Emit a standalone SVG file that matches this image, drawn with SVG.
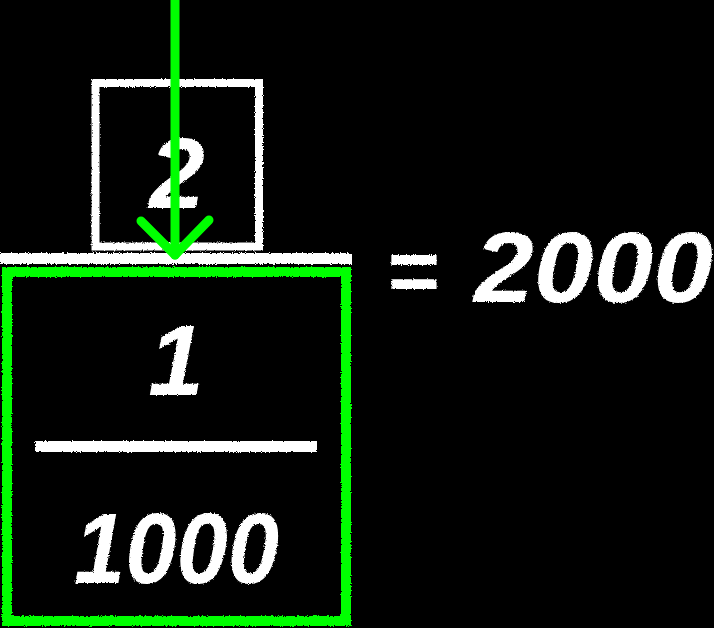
<svg xmlns="http://www.w3.org/2000/svg" width="714" height="628" viewBox="0 0 714 628">
<defs>
<filter id="chalk" x="-5%" y="-5%" width="110%" height="110%">
<feTurbulence type="fractalNoise" baseFrequency="0.9" numOctaves="2" seed="3" result="n"/>
<feDisplacementMap in="SourceGraphic" in2="n" scale="3" xChannelSelector="R" yChannelSelector="G"/>
</filter>
<style>
.w{fill:none;stroke:#ffffff;stroke-width:8}
.g{fill:none;stroke:#00ff00;stroke-width:10}
.t{fill:#ffffff;font-family:"Liberation Sans",Arial,sans-serif;font-weight:bold;font-size:100px;font-style:italic}
.arrow{fill:none;stroke:#00ff00;stroke-width:9;stroke-linecap:round;stroke-linejoin:round}
</style>
</defs>
<rect width="714" height="628" fill="#000000"/>
<g filter="url(#chalk)">
<g id="node-two">
<rect class="w" x="95.5" y="83" width="163.5" height="163.5"/>
<text class="t" x="177" y="208" text-anchor="middle">2</text>
</g>
<g id="node-shelf">
<line class="w" x1="0" y1="258.5" x2="352" y2="258.5" style="stroke-width:11"/>
</g>
<g id="node-fraction">
<rect class="g" x="7" y="272" width="339" height="349"/>
<text class="t" x="176" y="395" text-anchor="middle">1</text>
<line class="w" x1="35" y1="446.5" x2="317" y2="446.5" style="stroke-width:11"/>
<text class="t" x="74" y="583" textLength="205" lengthAdjust="spacingAndGlyphs">1000</text>
</g>
<g id="node-result">
<text class="t"><tspan x="386" y="302" style="font-size:90px">=</tspan><tspan x="474" y="302" textLength="239" lengthAdjust="spacingAndGlyphs">2000</tspan></text>
</g>
</g>
<g id="connectors">
<line class="arrow" x1="175" y1="0" x2="175" y2="255" stroke-linecap="butt"/>
<polyline class="arrow" points="141,221 175,255 209,220"/>
</g>
</svg>
